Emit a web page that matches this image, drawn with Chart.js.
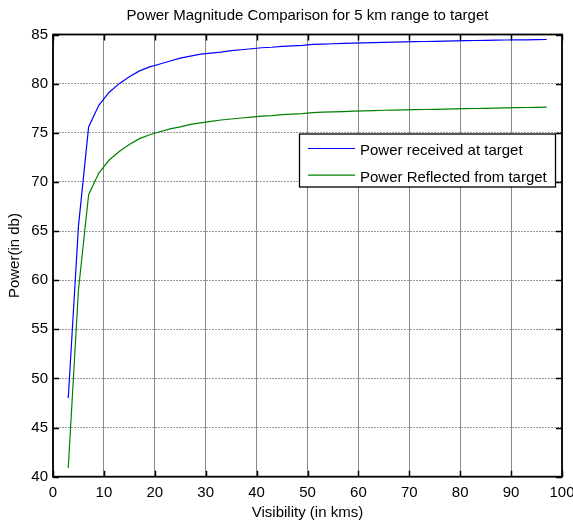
<!DOCTYPE html>
<html>
<head>
<meta charset="utf-8">
<script src="https://cdn.jsdelivr.net/npm/chart.js@4"></script>
<style>
  html, body { margin: 0; padding: 0; background: #fff; }
  #wrap { width: 573px; height: 523px; }
</style>
</head>
<body>
<div id="wrap"><canvas id="c" width="573" height="523"></canvas></div>
<script>
const chartTitle = "Power Magnitude Comparison for 5 km range to target";
const xTitle = "Visibility (in kms)";
const yTitle = "Power(in db)";
const seriesNames = ["Power received at target", "Power Reflected from target"];

const visibility = [3, 5, 7, 9, 11, 13, 15, 17, 19, 21, 23, 25, 27, 29, 31, 33, 35, 37, 39, 41,
  43, 45, 47, 49, 51, 53, 55, 57, 59, 61, 63, 65, 67, 69, 71, 73, 75, 77, 79, 81,
  83, 85, 87, 89, 91, 93, 95, 97];

const powerReceived = [48.0, 65.5, 75.6, 77.8, 79.1, 80.0, 80.7, 81.3, 81.7, 82.0,
  82.3, 82.6, 82.8, 83.0, 83.1, 83.2, 83.35, 83.45, 83.55, 83.65,
  83.7, 83.8, 83.85, 83.9, 84.0, 84.03, 84.06, 84.09, 84.12, 84.15,
  84.18, 84.2, 84.22, 84.25, 84.27, 84.29, 84.31, 84.33, 84.35, 84.37,
  84.39, 84.41, 84.42, 84.44, 84.45, 84.46, 84.48, 84.49];

const powerReflected = [40.9, 59.0, 68.7, 70.9, 72.2, 73.1, 73.8, 74.4, 74.8, 75.1,
  75.4, 75.6, 75.85, 76.0, 76.15, 76.3, 76.4, 76.5, 76.6, 76.7,
  76.75, 76.85, 76.9, 76.95, 77.05, 77.1, 77.13, 77.16, 77.2, 77.23,
  77.26, 77.29, 77.31, 77.33, 77.35, 77.37, 77.39, 77.41, 77.43, 77.45,
  77.47, 77.49, 77.51, 77.53, 77.55, 77.57, 77.58, 77.6];

const xTickValues = [0, 10, 20, 30, 40, 50, 60, 70, 80, 90, 100];
const yTickValues = [40, 45, 50, 55, 60, 65, 70, 75, 80, 85];

const FONT = "'Liberation Sans', Arial, Helvetica, sans-serif";
const colors = ["#0000ff", "#008000"];

function pts(xs, ys) { return xs.map((x, i) => ({ x: x, y: ys[i] })); }

const frameAndLegend = {
  id: 'frameAndLegend',
  afterDatasetsDraw(chart) {
    const ctx = chart.ctx;
    const a = chart.chartArea;
    const xs = chart.scales.x, ys = chart.scales.y;
    ctx.save();
    // inner ticks
    ctx.strokeStyle = '#000';
    ctx.lineWidth = 1.5;
    const tl = 6;
    ctx.beginPath();
    xTickValues.forEach(v => {
      const px = Math.round(xs.getPixelForValue(v)) + 0.5;
      ctx.moveTo(px, a.bottom); ctx.lineTo(px, a.bottom - tl);
      ctx.moveTo(px, a.top); ctx.lineTo(px, a.top + tl);
    });
    yTickValues.forEach(v => {
      const py = Math.round(ys.getPixelForValue(v)) + 0.5;
      ctx.moveTo(a.left, py); ctx.lineTo(a.left + tl, py);
      ctx.moveTo(a.right, py); ctx.lineTo(a.right - tl, py);
    });
    ctx.stroke();
    // frame
    ctx.lineWidth = 1.8;
    ctx.strokeRect(a.left, a.top, a.right - a.left, a.bottom - a.top);

    // legend
    const lx = a.left + 246, ly = a.top + 99, lw = 256, lh = 53;
    ctx.fillStyle = '#fff';
    ctx.fillRect(lx, ly, lw, lh);
    ctx.lineWidth = 1.3;
    ctx.strokeStyle = '#000';
    ctx.strokeRect(lx + 0.5, ly + 0.5, lw, lh);
    ctx.font = '15px ' + FONT;
    ctx.textBaseline = 'alphabetic';
    ctx.textAlign = 'left';
    chart.data.datasets.forEach((ds, i) => {
      const cy = ly + 15 + i * 26.6;
      ctx.strokeStyle = ds.borderColor;
      ctx.lineWidth = 1.2;
      ctx.beginPath();
      ctx.moveTo(lx + 9, cy); ctx.lineTo(lx + 56, cy);
      ctx.stroke();
      ctx.fillStyle = '#000';
      ctx.fillText(ds.label, lx + 61, cy + 6.6);
    });
    ctx.restore();
  }
};

new Chart(document.getElementById('c'), {
  type: 'line',
  data: {
    datasets: [
      { label: seriesNames[0], data: pts(visibility, powerReceived), borderColor: colors[0], backgroundColor: colors[0], borderWidth: 1.2, pointRadius: 0, tension: 0, fill: false },
      { label: seriesNames[1], data: pts(visibility, powerReflected), borderColor: colors[1], backgroundColor: colors[1], borderWidth: 1.2, pointRadius: 0, tension: 0, fill: false }
    ]
  },
  options: {
    responsive: false,
    animation: false,
    devicePixelRatio: 1,
    layout: { padding: { left: 0, right: 11, top: 0, bottom: 0 } },
    plugins: {
      legend: { display: false },
      tooltip: { enabled: false },
      title: {
        display: true, text: chartTitle, fullSize: false, color: '#000',
        font: { family: FONT, size: 15, weight: 'normal', lineHeight: 1.2 },
        padding: { top: 7, bottom: 9.5 }
      }
    },
    scales: {
      x: {
        type: 'linear', min: 0, max: 100,
        afterBuildTicks: s => { s.ticks = xTickValues.map(v => ({ value: v })); },
        ticks: { color: '#000', font: { family: FONT, size: 15 }, padding: 7.5, maxRotation: 0, autoSkip: false },
        grid: { color: '#8a8a8a', lineWidth: 1, drawTicks: false },
        border: { display: false },
        title: { display: true, text: xTitle, color: '#000', font: { family: FONT, size: 15 }, padding: { top: 0, bottom: 1.5 } },
        afterFit: s => { s.height = 46.3; s.paddingLeft = 0; s.paddingRight = 0; }
      },
      y: {
        type: 'linear', min: 40, max: 85,
        afterBuildTicks: s => { s.ticks = yTickValues.map(v => ({ value: v })); },
        ticks: { color: '#000', font: { family: FONT, size: 15 }, padding: 5 },
        grid: { color: '#9a9a9a', lineWidth: 1, drawTicks: false },
        border: { display: false, dash: [2, 1] },
        title: { display: true, text: yTitle, color: '#000', font: { family: FONT, size: 15 }, padding: { top: 5.5, bottom: 0 } },
        afterFit: s => { s.width = 53; s.paddingTop = 0; s.paddingBottom = 0; }
      }
    }
  },
  plugins: [frameAndLegend]
});
</script>
</body>
</html>
